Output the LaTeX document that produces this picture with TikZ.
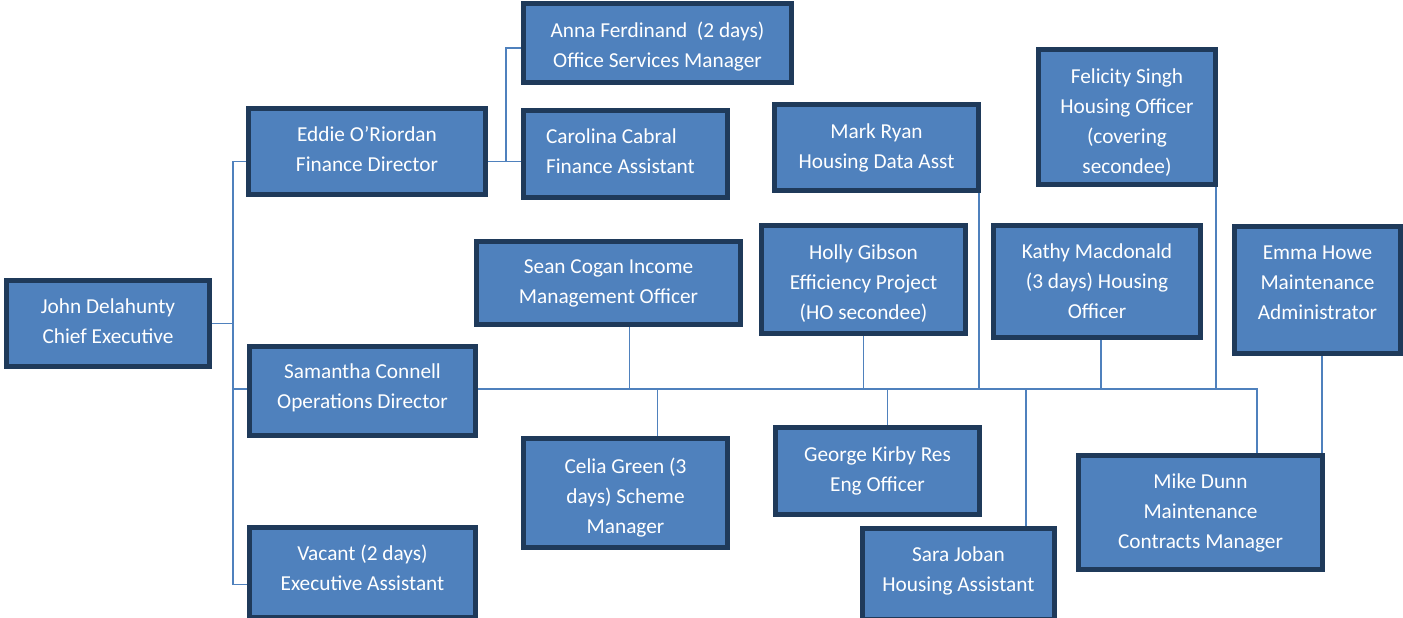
\documentclass[tikz,border=0pt]{standalone}
\usepackage{fontspec}
\setmainfont{Carlito}
\usetikzlibrary{calc}
\definecolor{postblue}{HTML}{4F81BD}
\definecolor{postedge}{HTML}{1F3A5A}
\def\sheet{(0,0) rectangle (1403,618)}
% invisible struts to nudge the text of a box up or down
\def\pushup#1{\rule[-#1pt]{0pt}{0pt}}
\def\pushdown#1{\rule{0pt}{#1pt}}

\begin{document}
\begin{tikzpicture}[x=1pt, y=-1pt,
	post/.style={draw=postedge, fill=postblue, line width=5pt, text=white, align=center,
		inner sep=0pt, font=\fontsize{21.3}{30}\selectfont},
	link/.style={draw=postblue, line width=1.6pt}]
	\useasboundingbox \sheet;

	% bus lines
	\coordinate (cbus) at (233,0);
	\coordinate (fbus) at (506,0);
	\coordinate (trunk) at (0,389);
	\coordinate (mdrop) at (1257,0);

	% left column
	\node[post, minimum width=203, minimum height=86] (john) at (108,323.5) {John Delahunty\\Chief Executive\pushup{5}};
	\node[post, minimum width=237, minimum height=86] (eddie) at (367,151.5) {Eddie O’Riordan\\Finance Director\pushup{6}};
	\node[post, minimum width=226, minimum height=89] (samantha) at (362.5,391) {Samantha Connell\\Operations Director\pushup{10.5}};
	\node[post, minimum width=226, minimum height=90] (vacant) at (362.5,572.5) {Vacant (2 days)\\Executive Assistant\pushup{10}};

	% finance
	\node[post, minimum width=268, minimum height=79] (anna) at (657.5,43) {\pushdown{22}Anna Ferdinand~ (2 days)\\Office Services Manager};
	\node[post, minimum width=204, minimum height=87, text width=159pt, align=flush left] (carolina) at (625.5,154) {Carolina Cabral\\Finance Assistant\pushup{6}};

	% operations, above the trunk
	\node[post, minimum width=204, minimum height=86] (mark) at (876.5,147.5) {Mark Ryan\\Housing Data Asst};
	\node[post, minimum width=177, minimum height=135] (felicity) at (1127,117) {\pushdown{25}Felicity Singh\\Housing Officer\\(covering\\secondee)};
	\node[post, minimum width=264, minimum height=83] (sean) at (608.5,283) {Sean Cogan Income\\Management Officer};
	\node[post, minimum width=204, minimum height=108] (holly) at (863.5,279.5) {\pushdown{23}Holly Gibson\\Efficiency Project\\(HO secondee)};
	\node[post, minimum width=207, minimum height=112] (kathy) at (1097,281.5) {Kathy Macdonald\\(3 days) Housing\\Officer};
	\node[post, minimum width=166, minimum height=127] (emma) at (1317.5,290) {Emma Howe\\Maintenance\\Administrator\pushup{14}};

	% operations, below the trunk
	\node[post, minimum width=204, minimum height=109] (celia) at (625.5,493) {\pushdown{24}Celia Green (3\\days) Scheme\\Manager};
	\node[post, minimum width=204, minimum height=87] (george) at (877.5,471) {George Kirby Res\\Eng Officer};
	\node[post, minimum width=192, minimum height=91] (sara) at (958.5,574) {Sara Joban\\Housing Assistant\pushup{10.5}};
	\node[post, minimum width=244, minimum height=114] (mike) at (1200.5,512.5) {Mike Dunn\\Maintenance\\Contracts Manager};

	% chief executive
	\draw[link] (john.east) -- (john.east -| cbus);
	\draw[link] ([yshift=-10pt]eddie.west) -| ([yshift=-12pt]vacant.west -| cbus) -- ([yshift=-12pt]vacant.west);
	\draw[link] ([yshift=2pt]samantha.west) -- ([yshift=2pt]samantha.west -| cbus);

	% finance director
	\draw[link] ([yshift=-10pt]eddie.east) -- ([yshift=-10pt]eddie.east -| carolina.west);
	\draw[link] ([yshift=-10pt]eddie.east -| fbus) |- ([yshift=-5pt]anna.west);

	% operations director
	\draw[link] ([yshift=2pt]samantha.east) -| (mdrop |- mike.north);
	\draw[link] ([xshift=21pt]sean.south) -- ([xshift=21pt]sean.south |- trunk);
	\draw[link] (holly.south) -- (holly.south |- trunk);
	\draw[link] ([xshift=-2pt]mark.south east) -- ([xshift=-2pt]mark.south east |- trunk);
	\draw[link] ([xshift=4pt]kathy.south) -- ([xshift=4pt]kathy.south |- trunk);
	\draw[link] ([xshift=-2pt]felicity.south east) -- ([xshift=-2pt]felicity.south east |- trunk);
	\draw[link] ([xshift=32pt]celia.north) -- ([xshift=32pt]celia.north |- trunk);
	\draw[link] ([xshift=10pt]george.north) -- ([xshift=10pt]george.north |- trunk);
	\draw[link] ([xshift=-31pt]sara.north east) -- ([xshift=-31pt]sara.north east |- trunk);
	\draw[link] ([xshift=-3pt]mike.north east) -- ([xshift=-3pt]mike.north east |- emma.south);
\end{tikzpicture}
\end{document}
